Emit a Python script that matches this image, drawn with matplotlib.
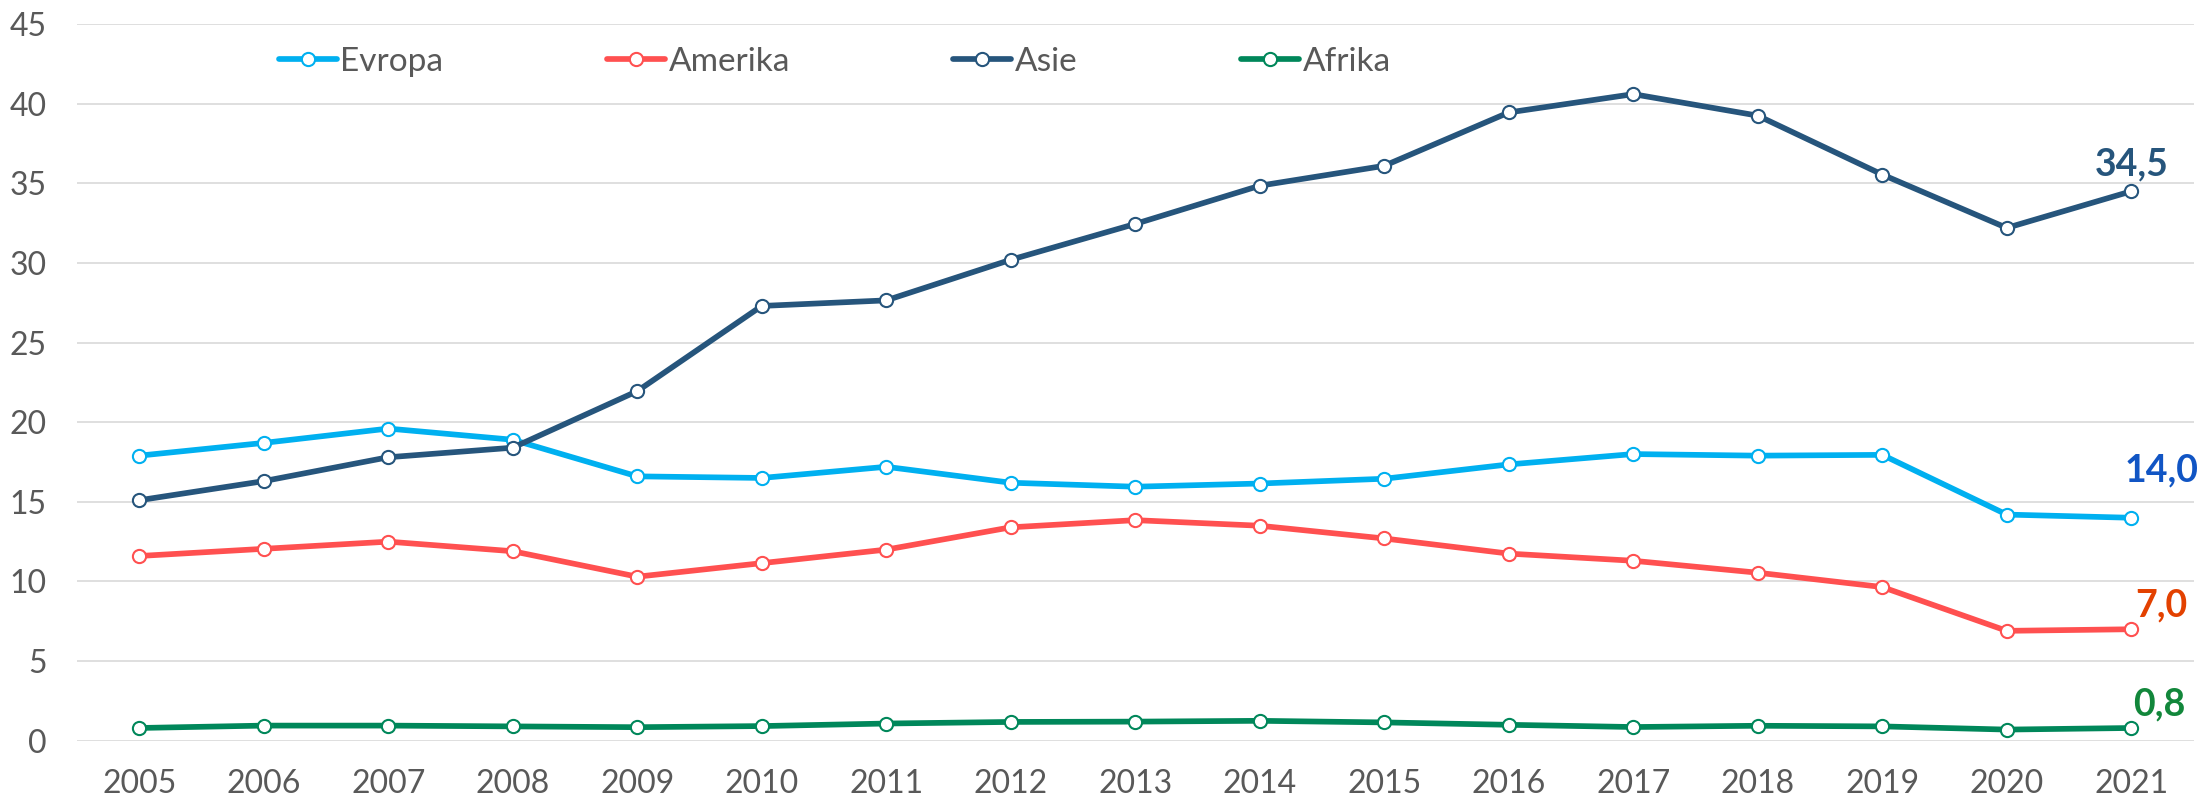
import matplotlib
matplotlib.use("Agg")
import matplotlib.pyplot as plt

# data
years = list(range(2005, 2022))
evropa = [17.9, 18.7, 19.6, 18.9, 16.6, 16.5, 17.2, 16.2, 15.95, 16.15, 16.45, 17.35, 18.0, 17.9, 17.95, 14.2, 14.0]
amerika = [11.6, 12.05, 12.5, 11.9, 10.3, 11.15, 12.0, 13.4, 13.85, 13.5, 12.7, 11.75, 11.3, 10.55, 9.65, 6.9, 7.0]
asie = [15.1, 16.3, 17.8, 18.4, 21.95, 27.3, 27.65, 30.2, 32.45, 34.85, 36.1, 39.45, 40.6, 39.25, 35.55, 32.2, 34.5]
afrika = [0.8, 0.95, 0.95, 0.9, 0.85, 0.92, 1.08, 1.18, 1.2, 1.25, 1.15, 1.0, 0.86, 0.94, 0.9, 0.7, 0.8]

series_names = ["Evropa", "Amerika", "Asie", "Afrika"]
line_colors = ["#00B0F0", "#FF5050", "#26557C", "#00875A"]
label_colors = ["#1155C4", "#E34100", "#26557C", "#12873B"]
# offsets (points) of the end value labels from the last point
label_offsets = [(22, 34), (22, 17), (0, 19), (20, 17)]

plt.rcParams["font.family"] = ["Lato", "DejaVu Sans"]

fig = plt.figure(figsize=(21.99, 8.02), dpi=100)
ax = fig.add_axes([0.035, 0.0764, 0.9625, 0.8936])

values = [evropa, amerika, asie, afrika]
for name, vals, col, lcol, off in zip(series_names, values, line_colors, label_colors, label_offsets):
    ax.plot(years, vals, color=col, lw=4.1, marker="o", ms=9.5,
            mfc="white", mec=col, mew=1.5, label=name, solid_capstyle="round")
    ax.annotate(f"{vals[-1]:.1f}".replace(".", ","), (years[-1], vals[-1]),
                xytext=off, textcoords="offset points", ha="center", va="center",
                fontsize=27, fontweight="bold", color=lcol, annotation_clip=False)

ax.set_xlim(2004.5, 2021.5)
ax.set_ylim(0, 45)
ax.set_yticks(range(0, 46, 5))
ax.set_xticks(years)
ax.grid(axis="y", color="#D9D9D9", lw=1.2)
ax.set_axisbelow(True)
for s in ax.spines.values():
    s.set_visible(False)
ax.tick_params(axis="both", length=0, labelsize=23, labelcolor="#595959")
ax.tick_params(axis="y", pad=22)
ax.tick_params(axis="x", pad=20)

ax.legend(loc="center", bbox_to_anchor=(0.358, 0.947), ncol=4, frameon=False,
          fontsize=24, handlelength=1.75, handletextpad=0.1, columnspacing=4.9,
          labelcolor="#595959")

fig.savefig("out.png", dpi=100)
plt.close(fig)
